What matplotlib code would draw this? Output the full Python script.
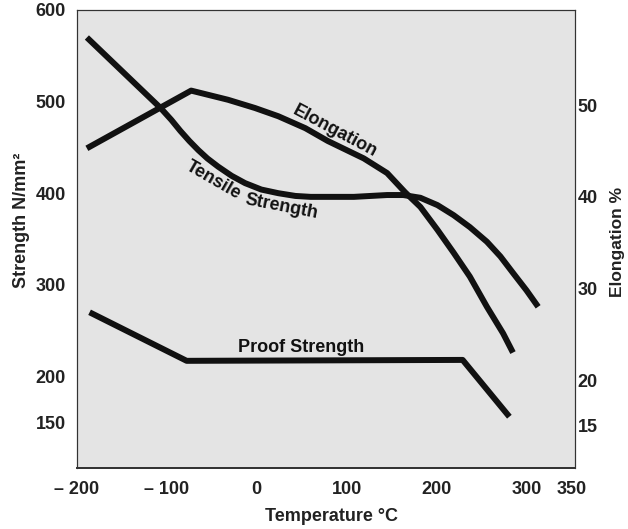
import matplotlib.pyplot as plt

plt.rcParams['font.family'] = ['Liberation Sans', 'DejaVu Sans']
plt.rcParams['font.weight'] = 'bold'

# Tensile strength (N/mm2) against temperature (°C)
tensile_temp = [-189, -107, -95, -85, -75, -65, -55, -43, -28, -13, 5, 24, 43, 60, 79,
                108, 145, 163, 182, 201, 219, 237, 256, 271, 285, 300, 313]
tensile_val = [570, 493, 480, 468, 457, 447, 438, 429, 419, 411, 404, 400, 397, 396, 396,
               396, 398, 398, 395, 387, 376, 363, 347, 331, 313, 294, 276]

# Proof strength (N/mm2)
proof_temp = [-186, -78, 229, 281]
proof_val = [270, 217, 218, 156]

# Elongation (%)
elong_temp = [-189, -73, -32, -2, 24, 54, 79, 119, 145, 165, 182,
              201, 219, 237, 256, 274, 285]
elong_val = [45.3, 51.6, 50.6, 49.7, 48.8, 47.5, 46.1, 44.2, 42.6, 40.5,
             38.9, 36.4, 33.9, 31.3, 28.0, 25.1, 23.0]

x_ticks = [-200, -100, 0, 100, 200, 300, 350]
x_labels = ['– 200', '– 100', '0', '100', '200', '300', '350']
left_ticks = [150, 200, 300, 400, 500, 600]
right_ticks = [15, 20, 30, 40, 50]

fig = plt.figure(figsize=(6.28, 5.29), dpi=100)
ax = fig.add_axes([0.1226, 0.1153, 0.793, 0.8658])
ax.set_facecolor('#e4e4e4')

line_kw = dict(color='#111111', lw=4.3, solid_capstyle='butt', solid_joinstyle='round')
ax.plot(tensile_temp, tensile_val, **line_kw)
ax.plot(proof_temp, proof_val, **line_kw)

ax.set_xlim(-198, 354)
ax.set_ylim(100, 600)
ax.set_xticks(x_ticks)
ax.set_xticklabels(x_labels)
ax.set_yticks(left_ticks)
ax.tick_params(axis='both', length=0, labelsize=13, colors='#222222')
ax.tick_params(axis='y', pad=8)
ax.tick_params(axis='x', pad=9)

ax2 = ax.twinx()
ax2.plot(elong_temp, elong_val, **line_kw)
ax2.set_ylim(10.4, 60.4)
ax2.set_yticks(right_ticks)
ax2.tick_params(axis='y', length=0, labelsize=13, pad=2, colors='#222222')

for a in (ax, ax2):
    for side, sp in a.spines.items():
        sp.set_color('#333333')
        sp.set_linewidth(1.3 if side == 'bottom' else 0.8)

lab_kw = dict(fontsize=13, fontweight='bold', color='#222222')
ax.set_xlabel('Temperature °C', **lab_kw)
ax.xaxis.set_label_coords(0.512, -0.087)
ax.set_ylabel('Strength N/mm²', **lab_kw)
ax.yaxis.set_label_coords(-0.094, 0.54)
ax2.set_ylabel('Elongation %', fontsize=12.5, fontweight='bold', color='#222222')
ax2.yaxis.set_label_coords(1.071, 0.493)

# curve names
txt_kw = dict(fontsize=13, color='#111111', ha='center', va='center', rotation_mode='anchor')
ax.text(87, 468, 'Elongation', rotation=-28, **txt_kw)
ax.text(-48, 414, 'Tensile', rotation=-30, **txt_kw)
ax.text(27, 385, 'Strength', rotation=-11, **txt_kw)
ax.text(49, 232, 'Proof Strength', rotation=0, **txt_kw)

plt.savefig('out.png', dpi=100)
